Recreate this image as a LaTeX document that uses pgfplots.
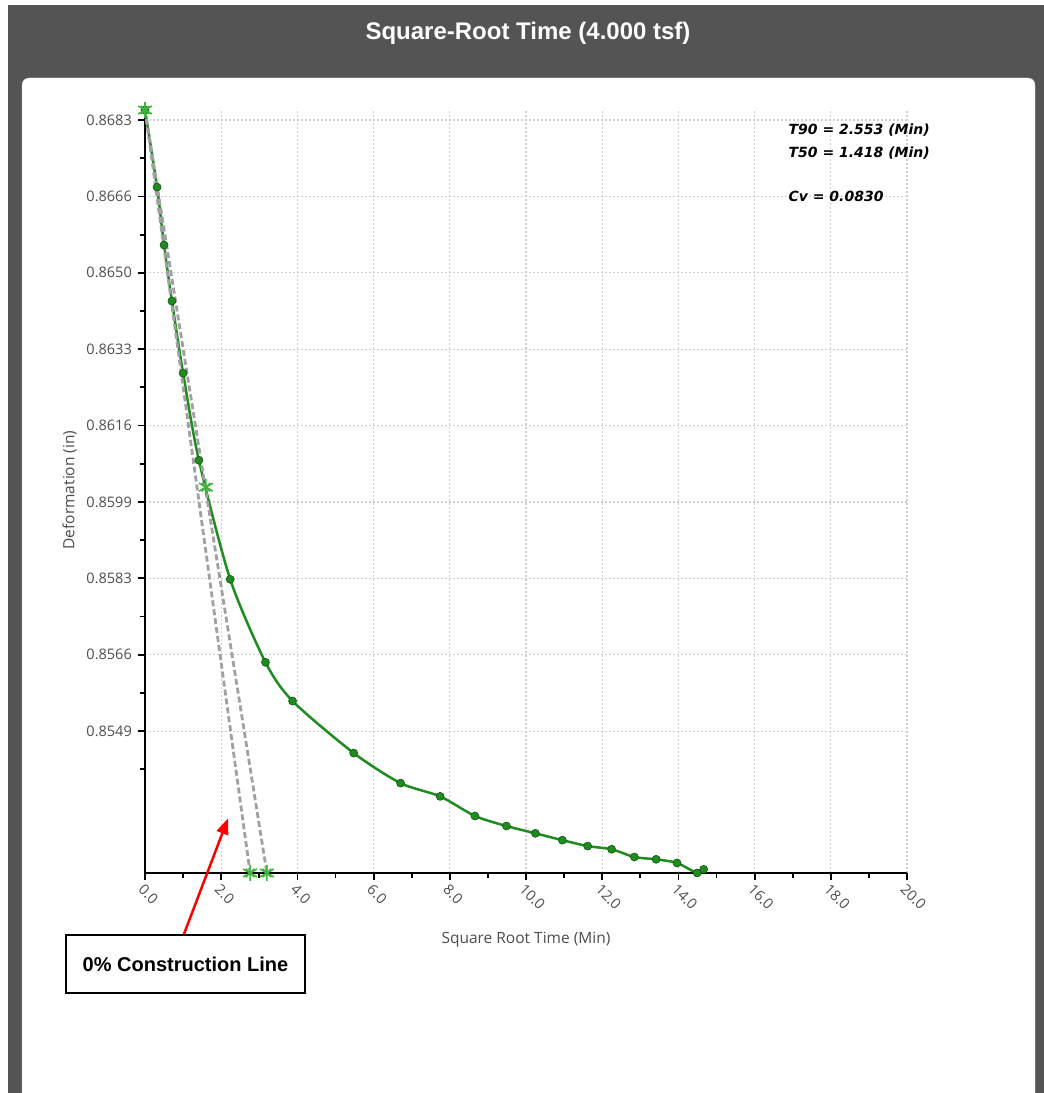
\documentclass[border=0pt]{standalone}
\usepackage{fontspec}
\setmainfont{Open Sans}
\newfontfamily\lib{Liberation Sans}
\newfontfamily\dejavu{DejaVu Sans}
\usepackage{pgfplots}
\pgfplotsset{compat=1.18}
\usetikzlibrary{arrows.meta}
\definecolor{framec}{HTML}{545454}
\definecolor{curvec}{HTML}{1E8C1E}
\definecolor{starc}{HTML}{3DB53D}
\definecolor{tickc}{HTML}{4D4D4D}
\definecolor{gridc}{HTML}{CFCFCF}
\definecolor{dashc}{HTML}{A0A0A0}

\pgfplotstableread{
x y
0 0.86852
0.316 0.86683
0.5 0.86556
0.707 0.86433
1.0 0.86275
1.414 0.86084
2.236 0.85823
3.162 0.85641
3.873 0.85556
5.477 0.85442
6.708 0.85376
7.746 0.85347
8.660 0.85304
9.487 0.85282
10.247 0.85266
10.954 0.85251
11.619 0.85238
12.247 0.85231
12.845 0.85214
13.416 0.85209
13.964 0.85201
14.491 0.85179
14.663 0.85187
}\curvedata

\pgfplotstableread{
x y
0 0.86852
1.598 0.86025
2.76 0.85179
3.20 0.85179
}\stardata

\begin{document}
\begin{tikzpicture}
\begin{scope}[x=1pt,y=1pt]
\useasboundingbox (0,0) rectangle (1044,1093);
\fill[white] (0,0) rectangle (1044,1093);
\fill[framec] (8,0) rectangle (1044,1088);
\fill[white, draw=gray!40, rounded corners=7pt] (22,-10) rectangle (1035,1015);
\node[text=white, font=\lib\bfseries\fontsize{24}{28}\selectfont] at (528,1060) {Square-Root Time (4.000 tsf)};
\end{scope}

\begin{axis}[
  at={(145pt,220pt)}, anchor=south west,
  scale only axis, width=762pt, height=763pt,
  xmin=0, xmax=20, ymin=0.85179, ymax=0.86852,
  clip=false,
  axis x line*=bottom, axis y line*=left,
  tick pos=left, tick align=outside,
  xtick={0,2,4,6,8,10,12,14,16,18,20},
  xticklabels={0.0,2.0,4.0,6.0,8.0,10.0,12.0,14.0,16.0,18.0,20.0},
  minor xtick={1,3,5,7,9,11,13,15,17,19},
  ytick={0.8549,0.856575,0.85825,0.859925,0.8616,0.863275,0.86495,0.866625,0.8683},
  yticklabels={0.8549,0.8566,0.8583,0.8599,0.8616,0.8633,0.8650,0.8666,0.8683},
  minor ytick={0.8540625,0.8557375,0.8574125,0.8590875,0.8607625,0.8624375,0.8641125,0.8657875,0.8674625},
  grid=major,
  major grid style={gridc, dash pattern=on 2pt off 2pt, line width=1.2pt},
  axis line style={black, line width=2pt},
  major tick length=7pt, minor tick length=5pt,
  every tick/.style={black, line width=1.8pt},
  tick label style={text=tickc, font=\fontsize{14.5}{16}\selectfont},
  yticklabel style={inner sep=1pt, xshift=-5pt},
  xticklabel style={rotate=-45, anchor=north west, inner sep=2pt},
  label style={text=tickc, font=\fontsize{15.5}{17}\selectfont},
  xlabel={Square Root Time (Min)},
  xlabel style={at={(axis description cs:0.5,-0.088)}, anchor=center},
  ylabel={Deformation (in)},
  ylabel style={at={(axis description cs:-0.099,0.502)}, anchor=center},
]
\addplot[curvec, line width=2.5pt, smooth, tension=0.45, mark=*, mark size=4pt,
  mark options={fill=curvec, draw=curvec!60!black, line width=0.6pt}] table[x=x,y=y] {\curvedata};
\addplot[dashc, line width=2.8pt, dash pattern=on 6pt off 3pt] coordinates {(0,0.86852) (2.76,0.85179)};
\addplot[dashc, line width=2.8pt, dash pattern=on 6pt off 3pt] coordinates {(0,0.86852) (3.20,0.85179)};
\addplot[only marks, mark=asterisk, mark size=8pt, mark options={starc, line width=1.6pt}] table[x=x,y=y] {\stardata};
\addplot[only marks, mark=x, mark size=6pt, mark options={starc, line width=1.4pt}] table[x=x,y=y] {\stardata};

\node[anchor=west, font=\dejavu\bfseries\itshape\fontsize{14}{16}\selectfont] at (axis description cs:0.84,0.974) {T90 = 2.553 (Min)};
\node[anchor=west, font=\dejavu\bfseries\itshape\fontsize{14}{16}\selectfont] at (axis description cs:0.84,0.944) {T50 = 1.418 (Min)};
\node[anchor=west, font=\dejavu\bfseries\itshape\fontsize{14}{16}\selectfont] at (axis description cs:0.84,0.887) {Cv = 0.0830};

\draw[red, line width=2.5pt, -{Triangle[length=16pt,width=12pt]}] (axis cs:1.0,0.85040) -- (axis cs:2.18,0.85299);
\end{axis}

\node[draw=black, line width=1.5pt, fill=white, minimum width=239pt, minimum height=58pt,
  font=\lib\bfseries\fontsize{20}{22}\selectfont] at (185.5pt,129pt) {0\% Construction Line};
\end{tikzpicture}
\end{document}
